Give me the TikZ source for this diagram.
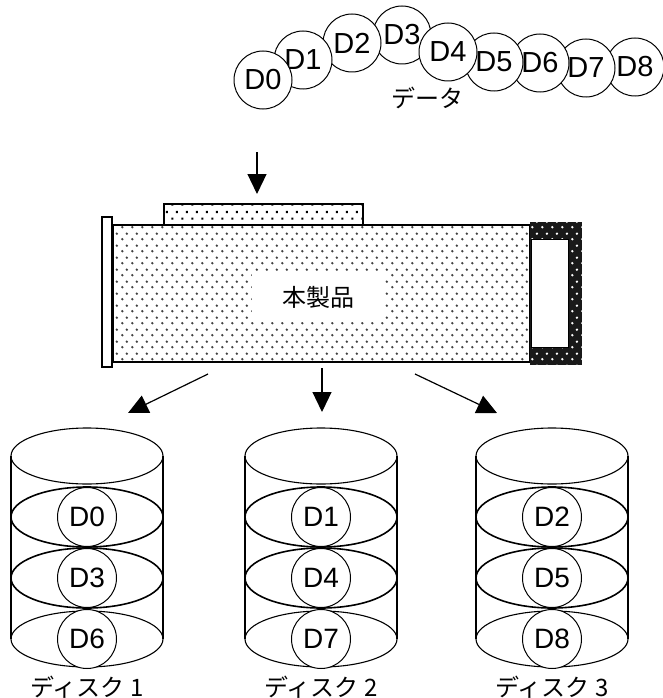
\documentclass[tikz,border=0pt]{standalone}
\usepackage{fontspec}
\setmainfont{Liberation Sans}
\newfontfamily\jp{Noto Sans CJK JP}
\usetikzlibrary{arrows.meta}
\usetikzlibrary{patterns.meta}

% dot screens for the unit body, the top slot and the dark end cap
\tikzdeclarepattern{name=bodydots, type=uncolored,
  bounding box={(0pt,0pt) and (10pt,12pt)}, tile size={(10pt,12pt)},
  code={\pgfpathcircle{\pgfpoint{2.5pt}{3pt}}{1.4pt}
        \pgfpathcircle{\pgfpoint{7.5pt}{9pt}}{1.4pt}
        \pgfusepath{fill}}}
\tikzdeclarepattern{name=slotdots, type=uncolored,
  bounding box={(0pt,0pt) and (10pt,14pt)}, tile size={(10pt,14pt)},
  code={\pgfpathrectangle{\pgfpoint{1.4pt}{2.4pt}}{\pgfpoint{2.3pt}{2.3pt}}
        \pgfpathrectangle{\pgfpoint{6.4pt}{9.4pt}}{\pgfpoint{2.3pt}{2.3pt}}
        \pgfusepath{fill}}}

\tikzset{dat/.style={circle,draw,fill=white,line width=1pt,minimum size=58pt,
   inner sep=0pt,font=\fontsize{29}{32}\selectfont},
 blk/.style={circle,draw,fill=white,line width=1pt,minimum size=59pt,
   inner sep=0pt,font=\fontsize{28}{32}\selectfont},
 band/.style={line width=1.6pt},
 flow/.style={line width=1.2pt,-{Triangle[width=19pt,length=20pt]}},
 lbl/.style={font=\jp\fontsize{24}{28}\selectfont},
 }

\begin{document}
\begin{tikzpicture}[x=1pt,y=-1pt,line width=1.1pt]
        \useasboundingbox (0,0) rectangle (663,698);
        % data blocks
        \node[dat] (d8) at (635,67) {D8};
        \node[dat] (d7) at (586,68) {D7};
        \node[dat] (d6) at (540,63) {D6};
        \node[dat] (d5) at (494,62) {D5};
        \node[dat] (d3) at (402,35) {D3};
        \node[dat] (d4) at (448,52) {D4};
        \node[dat] (d2) at (352,43) {D2};
        \node[dat] (d1) at (303,60) {D1};
        \node[dat] (d0) at (263,80) {D0};
        \node[lbl] (data) at (427,98) {データ};
        \coordinate (in0) at (257,152);
        \coordinate (in1) at (257,194);
        \draw[flow] (in0) -- (in1);
        % the unit
        \fill[pattern=slotdots,pattern color=black] (164,204) rectangle (363,225);
        \draw (164,225) -- (164,204) -- (363,204) -- (363,225);
        \fill[pattern=bodydots,pattern color=black!75] (113,225) rectangle (530,362);
        \draw (113,225) rectangle (530,362);
        \draw[fill=white] (102,217) rectangle (112,367);
        \fill[black!90] (530,222) rectangle (582,365);
        \fill[pattern=bodydots,pattern color=white] (530,222) rectangle (582,365);
        \draw[line width=.6pt,fill=white] (531,239) rectangle (568,347);
        \node[lbl,fill=white,minimum width=133pt,minimum height=50pt] (unit) at (318,297) {本製品};
        % striping out to the disks
        \coordinate (l0) at (208,374);
        \coordinate (l1) at (128,413);
        \coordinate (m0) at (322,368);
        \coordinate (m1) at (322,412);
        \coordinate (r0) at (415,374);
        \coordinate (r1) at (497,413);
        \draw[flow] (l0) -- (l1);
        \draw[flow] (m0) -- (m1);
        \draw[flow] (r0) -- (r1);
        % disk 1
        \draw (87,456) ellipse [x radius=76,y radius=28];
        \draw (11,456) -- (11,639) (163,456) -- (163,639);
        \draw[band] (87,517) ellipse [x radius=76,y radius=30];
        \draw[band] (87,578) ellipse [x radius=76,y radius=30];
        \draw (87,639) ellipse [x radius=76,y radius=28];
        \node[blk] (a0) at (87,517) {D0};
        \node[blk] (a3) at (87,578) {D3};
        \node[blk] (a6) at (87,639) {D6};
        \node[lbl] (disk1) at (87,687) {ディスク 1};
        % disk 2
        \draw (321,456) ellipse [x radius=76,y radius=28];
        \draw (245,456) -- (245,639) (397,456) -- (397,639);
        \draw[band] (321,517) ellipse [x radius=76,y radius=30];
        \draw[band] (321,578) ellipse [x radius=76,y radius=30];
        \draw (321,639) ellipse [x radius=76,y radius=28];
        \node[blk] (b1) at (321,517) {D1};
        \node[blk] (b4) at (321,578) {D4};
        \node[blk] (b7) at (321,639) {D7};
        \node[lbl] (disk2) at (321,687) {ディスク 2};
        % disk 3
        \draw (552,456) ellipse [x radius=76,y radius=28];
        \draw (476,456) -- (476,639) (628,456) -- (628,639);
        \draw[band] (552,517) ellipse [x radius=76,y radius=30];
        \draw[band] (552,578) ellipse [x radius=76,y radius=30];
        \draw (552,639) ellipse [x radius=76,y radius=28];
        \node[blk] (c2) at (552,517) {D2};
        \node[blk] (c5) at (552,578) {D5};
        \node[blk] (c8) at (552,639) {D8};
        \node[lbl] (disk3) at (552,687) {ディスク 3};
    \end{tikzpicture}
\end{document}
